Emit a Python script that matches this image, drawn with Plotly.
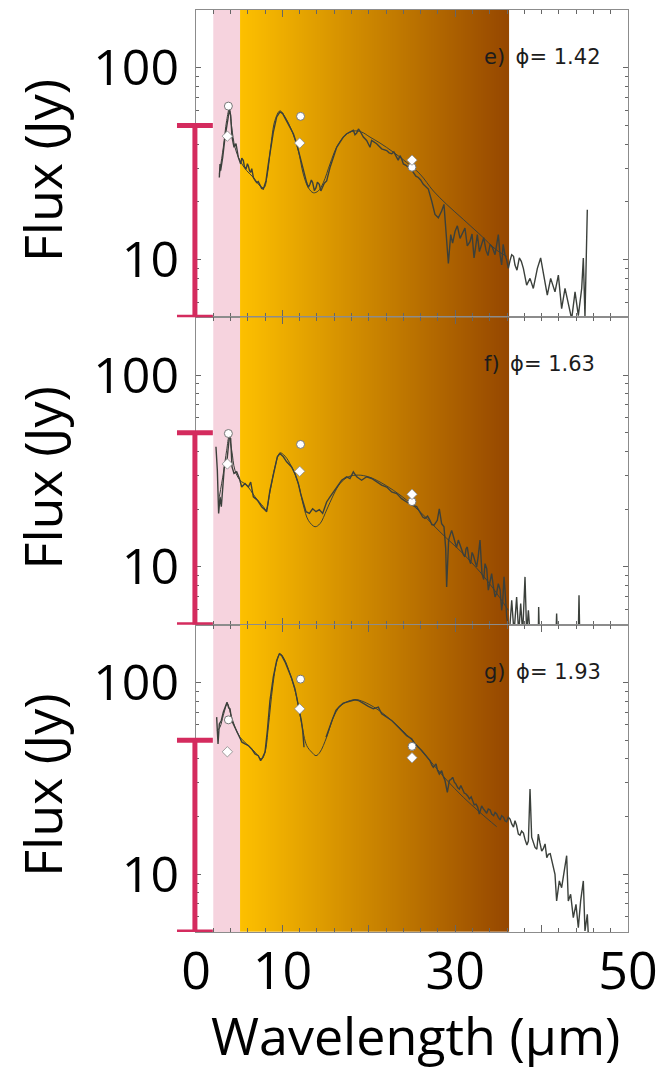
import numpy as np
import plotly.graph_objects as go
from plotly.subplots import make_subplots

# ---------------- data ----------------
panel_labels = ["e)\u2002\u03d5= 1.42", "f)\u2002\u03d5= 1.63", "g)\u2002\u03d5= 1.93"]

# panel e (phase 1.42) observed spectrum
wl_e = [2.70, 2.78, 2.85, 3.09, 3.36, 3.63, 3.86, 4.01, 4.17, 4.40, 4.63, 4.90, 5.17, 5.30, 5.48, 5.60,
        5.79, 5.95, 6.06, 6.20, 6.33, 6.45, 6.64, 6.80, 7.02, 7.20, 7.41, 7.60, 7.79, 8.10, 8.37, 8.64,
        8.95, 9.34, 9.72, 10.03, 10.42, 10.88, 11.27, 11.65, 11.96, 12.23, 12.50, 12.81, 13.00, 13.19,
        13.35, 13.50, 13.70, 13.89, 14.05, 14.27, 14.45, 14.66, 14.85, 15.12, 15.51, 15.90,
        16.28, 16.67, 17.05, 17.44, 17.82, 18.21, 18.40, 18.60, 18.80, 18.98, 19.37, 19.75, 20.14, 20.33,
        20.91, 21.49, 22.07, 22.65, 23.23, 23.61, 24.00, 24.58, 25.15, 25.73, 26.31, 26.89, 27.28,
        27.66, 28.05, 28.43, 28.70, 28.94, 29.21, 29.48, 29.98, 30.56, 31.13, 31.71, 32.18, 32.56,
        33.06, 33.56, 34.03, 34.61, 34.99, 35.38, 35.76, 36.15, 36.54, 36.92, 37.42, 37.89, 38.27,
        38.66, 39.04, 39.51, 39.89, 40.28, 40.66, 41.05, 41.55, 41.94, 42.32, 42.71, 43.09, 43.48,
        43.87, 44.25, 44.64, 44.83, 45.02, 45.29]
fx_e = [26.8, 31.5, 29.1, 34.1, 43.5, 51.2, 60.1, 56.6, 43.5, 38.5, 40.2, 34.1, 31.5, 33.8, 32.8, 30.5,
        29.6, 31.6, 30.8, 29.0, 28.5, 29.8, 26.8, 26.0, 25.2, 25.5, 24.2, 23.5, 23.3, 25.7, 31.5, 38.5,
        46.2, 55.4, 58.9, 57.7, 53.2, 49.1, 45.3, 40.2, 35.6, 31.5, 27.9, 25.2, 23.8, 24.7,
        26.0, 25.2, 22.9, 23.7, 25.3, 24.7, 22.8, 23.7, 25.0, 25.7, 30.2, 34.1,
        38.5, 41.0, 43.5, 45.3, 46.2, 47.2, 44.8, 45.7, 48.0, 46.8, 43.5, 41.8, 38.5, 41.8,
        40.2, 37.8, 37.0, 35.6, 34.1, 34.8, 31.5, 30.2, 28.5, 26.8, 24.7, 23.3, 20.2,
        17.2, 16.5, 17.9, 19.4, 13.5, 9.56, 13.5, 14.0, 12.9, 14.6, 12.4, 10.2, 13.5,
        12.0, 11.2, 12.0, 10.6, 13.5, 9.37, 10.6, 9.0, 10.6, 9.37, 10.2, 9.0, 7.36,
        7.98, 7.07, 9.0, 10.2, 7.98, 6.52, 7.98, 6.79, 8.3, 5.55, 7.07, 6.01, 4.9,
        6.79, 5.1, 7.07, 10.2, 5.0, 18.2]
# extra readings of the noisy parts of spectrum e
wl_e_x = [22.35, 22.9, 23.4, 23.8, 24.3, 24.85, 25.45, 26.0, 26.6, 29.7, 30.25, 30.85, 31.4, 31.95,
          32.35, 32.8, 33.3, 33.8, 34.3, 34.8, 35.2, 35.55, 35.95, 36.35, 36.75, 37.15, 37.65]
fx_e_x = [36.0, 36.4, 33.0, 33.5, 31.0, 29.8, 27.2, 26.0, 24.0, 12.2, 15.0, 13.8, 11.8, 13.6,
          11.5, 11.0, 13.0, 10.5, 11.6, 12.4, 10.5, 12.0, 10.0, 9.9, 10.4, 8.8, 9.8]
# panel e model
mwl_e = [2.70, 3.16, 3.55, 3.86, 4.13, 4.51, 5.09, 5.86, 6.64, 7.41, 7.87, 8.26, 8.64, 9.14, 9.72,
         10.30, 11.07, 11.84, 12.42, 13.00, 13.58, 14.16, 14.74, 15.51, 16.28, 17.25, 18.21, 19.17,
         20.14, 21.30, 22.84, 24.38, 25.93, 27.47, 29.01, 30.94, 32.87, 34.80, 35.96]
mfx_e = [27.9, 38.5, 53.2, 61.3, 49.1, 38.5, 32.8, 29.1, 26.8, 24.2, 23.7, 27.9, 38.5, 53.2, 59.6,
         55.4, 47.2, 37.0, 27.9, 23.7, 22.3, 22.8, 25.2, 31.5, 38.5, 44.4, 46.8, 46.2,
         43.5, 40.5, 36.3, 32.1, 27.9, 22.8, 19.4, 16.2, 13.5, 11.2, 10.4]

# panel f (phase 1.63) observed spectrum
wl_f = [2.31, 2.47, 2.62, 2.78, 2.93, 3.09, 3.28, 3.55, 3.74, 3.86, 4.01, 4.17, 4.40, 4.71, 5.02, 5.29,
        5.67, 6.06, 6.33, 6.64, 7.10, 7.60, 7.99, 8.18, 8.56, 9.03, 9.41, 9.72, 10.11, 10.49, 11.07,
        11.46, 11.84, 12.11, 12.42, 12.73, 13.12, 13.50, 13.89, 14.27, 14.66, 15.12, 15.51, 15.90,
        16.28, 16.86, 17.44, 17.82, 18.21, 18.60, 19.17, 19.75, 20.33, 20.91, 21.49, 22.07, 22.65,
        23.23, 23.80, 24.38, 24.96, 25.54, 26.00, 26.50, 27.08, 27.55, 27.93, 28.16, 28.43, 28.70,
        29.01, 29.24, 29.59, 29.98, 30.36, 30.75, 31.13, 31.40, 31.79, 32.10, 32.48, 32.87, 33.10,
        33.45, 33.83, 34.22, 34.61, 34.99, 35.38, 35.65, 35.96, 36.27, 36.54, 36.81, 37.11, 37.35,
        37.58, 37.81, 38.08, 38.27, 38.47, 38.66, 39.62, 39.66, 39.74, 41.67, 41.74, 41.82, 44.25,
        44.33, 44.41, 45.20]
fx_f = [42.3, 31.9, 19.0, 23.2, 20.6, 26.1, 33.2, 34.6, 44.0, 47.7, 46.7, 33.2, 30.7, 31.3, 28.9, 26.1,
        27.2, 26.1, 27.7, 23.2, 22.3, 20.6, 19.8, 19.4, 25.1, 31.9, 37.5, 39.0, 37.5, 35.3, 33.2,
        30.7, 27.2, 24.1, 21.4, 19.4, 19.0, 20.1, 19.4, 19.9, 19.0, 21.8, 23.2, 24.6,
        26.1, 28.3, 29.5, 28.9, 31.3, 29.5, 28.3, 29.5, 28.9, 27.7, 26.7, 26.1, 24.6,
        24.1, 22.7, 21.8, 21.0, 20.6, 19.0, 17.9, 17.5, 16.5, 17.5, 20.1, 16.8, 16.2,
        7.87, 13.8, 15.5, 13.2, 13.8, 12.2, 11.3, 12.7, 10.4, 11.5, 10.0, 13.8, 9.23,
        10.4, 7.56, 9.23, 6.97, 8.18, 5.94, 8.87, 5.48, 4.5, 6.70, 4.5, 6.97, 4.5,
        6.44, 4.5, 8.87, 4.5, 5.94, 4.5, 4.5, 6.18, 4.5, 4.5, 5.71, 4.5, 4.5,
        7.11, 4.5, 4.5]
wl_f_x = [26.25, 26.8, 27.3, 28.9, 29.4, 29.8, 30.15, 30.55, 30.95, 31.25, 31.6, 31.95, 32.3, 32.65,
          33.3, 33.65, 34.0, 34.4, 34.8, 35.2, 35.5, 35.8]
fx_f_x = [18.2, 18.4, 16.6, 12.5, 14.6, 14.4, 12.6, 13.0, 11.6, 12.4, 11.0, 11.9, 10.6, 11.2,
          8.6, 9.8, 8.4, 8.0, 7.3, 7.6, 6.6, 7.2]
# panel f model
mwl_f = [2.70, 3.16, 3.55, 3.82, 4.13, 4.51, 5.09, 5.86, 6.83, 7.79, 8.10, 8.56, 9.14, 9.72, 10.30,
         11.07, 11.84, 12.42, 13.00, 13.77, 14.35, 15.12, 15.90, 16.67, 17.63, 18.79, 19.95, 21.30,
         22.84, 24.38, 25.93, 27.47, 29.01, 30.94, 32.87, 34.41, 36.15]
mfx_f = [23.2, 30.7, 40.6, 47.7, 40.6, 31.9, 28.3, 26.7, 23.2, 20.6, 19.8, 24.6, 33.2, 39.3, 37.8,
         33.2, 27.2, 21.0, 17.5, 16.2, 16.8, 19.8, 23.7, 27.2, 29.5, 30.1, 29.5, 27.7,
         25.1, 22.3, 19.4, 16.5, 14.1, 11.7, 9.42, 7.71, 5.94]

# panel g (phase 1.93) observed spectrum (None = gap)
wl_g = [2.39, 2.47, 2.55, 2.70, 2.93, 3.16, 3.40, 3.59, 3.78, 3.94, 4.13, 4.40, 4.71, 5.02, 5.32, 5.67,
        6.06, 6.44, 6.83, 7.21, 7.48, 7.72, 7.99, 8.26, 8.56, 8.95, 9.34, 9.65, 9.92, 10.30, 10.69,
        11.07, 11.46, 11.73, 11.96, 12.19, 12.35, 12.50, 13.80, 15.05, 15.43, 15.82, 16.20, 16.59,
        17.05, 17.44, 17.90, 18.40, 18.79, 19.37, 19.95, 20.52, 21.10, 21.49, 22.07, 22.65, 23.23,
        23.80, 24.38, 24.96, 25.35, 25.73, 26.12, 26.62, 27.08, 27.47, 27.78, 28.16, 28.43, 28.82,
        29.09, 29.32, 29.71, 30.09, 30.48, 30.86, 31.25, 31.64, 32.02, 32.41, 32.79, 33.06, 33.45,
        33.83, 34.22, 34.61, 34.99, 35.38, 35.76, 36.15, 36.54, 36.92, 37.31, 37.69, 38.08, 38.47,
        38.66, 38.85, 39.24, 39.62, 40.01, 40.40, 40.78, 41.17, 41.55, 41.74, 42.05, 42.32, 42.59,
        42.90, 43.09, 43.36, 43.67, 43.98, 44.25, 44.52, 44.83, 45.02, 45.29, 45.41]
fx_g = [65.9, 54.0, 47.8, 60.8, 63.3, 70.0, 75.8, 78.9, 73.7, 72.8, 63.3, 59.6, 56.1, 52.8, 48.8, 47.8,
        46.9, 45.0, 42.4, 41.5, 39.1, 40.7, 43.3, 56.1, 80.5, 107, 130, 141, 138, 128, 116,
        105, 92.6, 80.5, 74.3, 63.3, 56.1, 45.9, None, 51.8, 58.5, 64.6, 71.4, 75.0,
        78.0, 78.9, 80.5, 81.2, 80.5, 77.4, 75.0, 72.8, 74.3, 68.6, 65.9, 63.3, 59.6,
        56.1, 52.8, 50.8, 47.8, 45.9, 44.2, 41.5, 39.1, 36.1, 37.6, 33.3, 34.7, 30.8,
        26.7, 30.8, 32.0, 29.5, 27.8, 27.3, 26.2, 24.7, 24.2, 23.2, 20.6, 22.7, 21.4,
        21.9, 20.6, 21.0, 19.8, 20.2, 19.0, 19.8, 18.3, 19.0, 16.2, 16.8, 15.2, 14.9,
        27.8, 15.6, 13.8, 16.2, 13.2, 14.4, 12.7, 11.7, 10.0, 7.26, 9.23, 8.51, 10.0,
        12.5, 7.26, 7.86, 5.94, 6.97, 5.26, 7.26, 9.23, 5.06, 6.18, 4.8]
wl_g_x = [27.3, 27.95, 28.6, 29.5, 29.9, 30.3, 30.65, 31.05, 31.45, 31.85, 32.2, 32.6, 33.25, 33.65,
          34.05, 34.45, 34.8, 35.2, 35.6, 35.95, 36.35, 36.75, 37.1, 37.5, 37.9, 38.3, 39.0, 39.45,
          39.8, 40.2, 40.6, 41.0, 41.35]
fx_g_x = [37.0, 34.8, 32.6, 31.2, 30.2, 28.2, 29.0, 26.5, 25.6, 25.3, 23.0, 22.4, 22.0, 20.8,
          21.6, 20.2, 20.6, 19.2, 19.8, 18.8, 19.4, 17.6, 18.0, 16.0, 16.4, 14.2, 14.8, 13.5,
          14.6, 13.6, 12.2, 12.8, 10.8]
# panel g model
mwl_g = [2.47, 2.78, 3.16, 3.63, 4.01, 4.51, 5.09, 5.86, 6.83, 7.60, 7.99, 8.37, 8.87, 9.34, 9.72,
         10.19, 10.88, 11.65, 12.23, 12.81, 13.39, 13.89, 14.35, 15.12, 15.90, 16.67, 17.63, 18.60,
         19.75, 21.30, 22.84, 24.38, 25.93, 27.47, 29.01, 30.94, 32.87, 34.80]
mfx_g = [56.1, 58.5, 67.3, 77.4, 68.6, 58.5, 51.8, 47.8, 43.3, 39.9, 43.3, 58.5, 94.6, 128, 141,
         133, 111, 83.8, 60.8, 46.9, 43.3, 41.5, 43.3, 51.8, 65.9, 75.0, 79.8, 81.2,
         78.0, 70.8, 62.1, 53.5, 45.0, 37.3, 31.0, 25.2, 21.0, 17.7]

# photometry: circles and diamonds
circ_wl = [3.75, 12.1, 25.0]
diam_wl = [3.63, 12.0, 25.0]
circ_fx = [[63.1, 55.8, 30.3], [49.6, 43.5, 21.9], [63.8, 104, 46.4]]
diam_fx = [[44.0, 40.5, 33.0], [34.4, 31.5, 23.9], [43.5, 72.8, 40.5]]


def merge(wl, fx, wlx, fxx):
    pts = sorted(zip(wl + wlx, fx + fxx), key=lambda p: p[0])
    return [p[0] for p in pts], [p[1] for p in pts]


spectra = [merge(wl_e, fx_e, wl_e_x, fx_e_x), merge(wl_f, fx_f, wl_f_x, fx_f_x),
           merge(wl_g, fx_g, wl_g_x, fx_g_x)]
models = [(mwl_e, mfx_e), (mwl_f, mfx_f), (mwl_g, mfx_g)]

# wavelength bands and scale bar
band_pink = [2.0, 5.1]
band_orange = [5.1, 36.2]
scale_bar = [5, 50]
y_range = [5, 200]
x_range = [0, 50]

# ---------------- figure ----------------
LINE = "#3b403b"
AXC = "#8c8c8c"
RED = "#d42b5e"

fig = make_subplots(rows=3, cols=1, shared_xaxes=True, vertical_spacing=0)

n_cols = 240
grad_x = np.linspace(band_orange[0], band_orange[1], n_cols + 1)
grad_z = [list(np.linspace(0, 1, n_cols))]

for i in range(3):
    r = i + 1
    wl, fx = spectra[i]
    mwl, mfx = models[i]
    fig.add_trace(go.Heatmap(x=grad_x, y=y_range, z=grad_z, showscale=False, hoverinfo="skip",
                             colorscale=[[0, "rgb(253,192,0)"], [1, "rgb(150,71,0)"]]),
                  row=r, col=1)
    fig.add_trace(go.Scatter(x=mwl, y=mfx, mode="lines", line=dict(color=LINE, width=1.0, shape="spline"),
                             showlegend=False, hoverinfo="skip"), row=r, col=1)
    fig.add_trace(go.Scatter(x=wl, y=fx, mode="lines", line=dict(color=LINE, width=1.4),
                             connectgaps=False, showlegend=False), row=r, col=1)
    fig.add_trace(go.Scatter(x=circ_wl, y=circ_fx[i], mode="markers",
                             marker=dict(symbol="circle", size=8, color="white",
                                         line=dict(color="#777777", width=1)),
                             showlegend=False), row=r, col=1)
    fig.add_trace(go.Scatter(x=diam_wl, y=diam_fx[i], mode="markers",
                             marker=dict(symbol="diamond", size=8, color="white",
                                         line=dict(color="#888888", width=0.8)),
                             showlegend=False), row=r, col=1)

shapes = []
for i in range(3):
    yref = "y domain" if i == 0 else f"y{i+1} domain"
    xref = "x" if i == 0 else f"x{i+1}"
    ydata = "y" if i == 0 else f"y{i+1}"
    shapes.append(dict(type="rect", xref=xref, yref=yref, x0=band_pink[0], x1=band_pink[1], y0=0, y1=1,
                       fillcolor="#f6d3de", line=dict(width=0), layer="below"))
    # red scale bar
    bx = -0.0025
    shapes.append(dict(type="line", xref="paper", yref=ydata, x0=bx, x1=bx,
                       y0=scale_bar[0], y1=scale_bar[1], line=dict(color=RED, width=5), layer="above"))
    for yv in scale_bar:
        shapes.append(dict(type="line", xref="paper", yref=ydata, x0=-0.044, x1=0.039,
                           y0=yv, y1=yv, line=dict(color=RED, width=5), layer="above"))

annotations = []
for i in range(3):
    yref = "y domain" if i == 0 else f"y{i+1} domain"
    xref = "x domain" if i == 0 else f"x{i+1} domain"
    annotations.append(dict(text=panel_labels[i], xref=xref, yref=yref, x=0.662, y=0.847,
                            xanchor="left", yanchor="middle", showarrow=False,
                            font=dict(family="DejaVu Sans", size=21, color="#1c1c1c")))
    annotations.append(dict(text="Flux (Jy)", xref="paper", yref=yref, x=-0.358, y=0.477,
                            xanchor="center", yanchor="middle", textangle=-90, showarrow=False,
                            font=dict(family="Open Sans", size=52, color="black")))
annotations.append(dict(text="Wavelength (\u00b5m)", xref="paper", yref="paper", x=0.507, y=-0.111,
                        xanchor="center", yanchor="middle", showarrow=False,
                        font=dict(family="Open Sans", size=52, color="black")))

fig.update_layout(width=662, height=1081, margin=dict(l=196, r=34, t=10, b=149, autoexpand=False),
                  plot_bgcolor="white", paper_bgcolor="white", shapes=shapes, annotations=annotations,
                  font=dict(family="Open Sans", color="black"))

for i in range(3):
    fig.update_xaxes(range=x_range, showline=True, linecolor=AXC, linewidth=1, mirror="ticks",
                     ticks="inside", ticklen=7, tickcolor="#666666", showgrid=False, zeroline=False,
                     automargin=False,
                     tickmode="array", tickvals=[0, 10, 20, 30, 40, 50],
                     ticktext=["0", "10", "", "30", "", "50"],
                     showticklabels=(i == 2), tickfont=dict(family="Open Sans", size=52, color="black"),
                     ticklabelstandoff=-6,
                     minor=dict(tickmode="linear", tick0=0, dtick=2, ticks="inside", ticklen=4,
                                tickcolor="#666666", showgrid=False),
                     row=i + 1, col=1)
    fig.update_yaxes(type="log", range=[np.log10(y_range[0]), np.log10(y_range[1])], showline=True,
                     linecolor=AXC, linewidth=1, mirror="ticks", ticks="inside", ticklen=5,
                     tickcolor="#666666", showgrid=False, zeroline=False, automargin=False,
                     tickmode="array", tickvals=[10, 100], ticktext=["10", "100"],
                     tickfont=dict(family="Open Sans", size=50, color="black"),
                     ticklabelstandoff=6,
                     minor=dict(tickmode="array",
                                tickvals=[5, 6, 7, 8, 9, 20, 30, 40, 50, 60, 70, 80, 90, 200],
                                ticks="inside", ticklen=3, tickcolor="#666666", showgrid=False),
                     row=i + 1, col=1)

fig.write_html("out.html", config={"displayModeBar": False},
               post_script="document.body.style.margin='0px';document.body.style.overflow='hidden';")
